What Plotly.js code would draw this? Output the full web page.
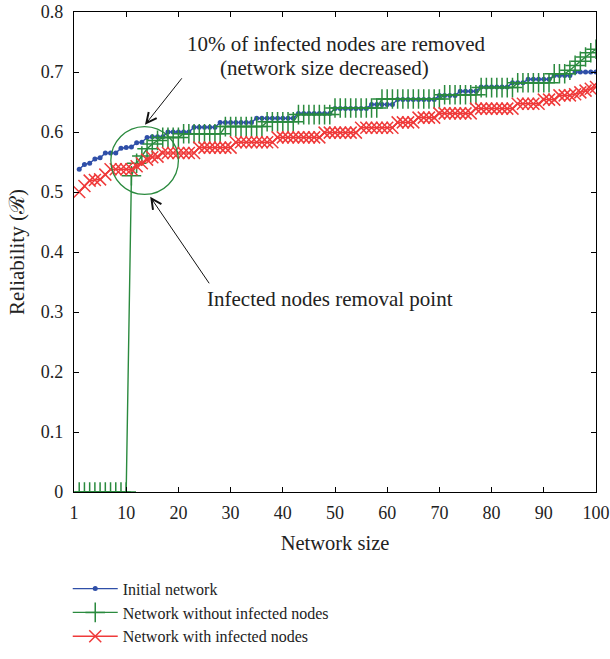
<!DOCTYPE html>
<html>
<head>
<meta charset="utf-8">
<script src="https://cdn.plot.ly/plotly-3.0.1.min.js"></script>
<style>
  html, body { margin: 0; padding: 0; background: #ffffff; }
  #chart { width: 610px; height: 659px; }
</style>
</head>
<body>
<div id="chart"></div>
<script>
// Network size (number of nodes) on the x axis
const networkSize = Array.from({ length: 100 }, (_, i) => i + 1);

// Reliability of the initial network
const initialNetwork = [
  0.538, 0.546, 0.548, 0.555, 0.557, 0.565, 0.565, 0.565, 0.573, 0.574,
  0.575, 0.582, 0.583, 0.591, 0.592, 0.592, 0.592, 0.600, 0.600, 0.600,
  0.600, 0.600, 0.608, 0.608, 0.608, 0.608, 0.608, 0.616, 0.616, 0.616,
  0.616, 0.616, 0.616, 0.616, 0.623, 0.623, 0.623, 0.623, 0.623, 0.623,
  0.623, 0.623, 0.631, 0.631, 0.631, 0.631, 0.631, 0.631, 0.631, 0.639,
  0.639, 0.639, 0.639, 0.639, 0.639, 0.639, 0.646, 0.646, 0.646, 0.646,
  0.646, 0.654, 0.654, 0.654, 0.654, 0.654, 0.654, 0.654, 0.654, 0.661,
  0.661, 0.661, 0.661, 0.668, 0.668, 0.668, 0.668, 0.675, 0.675, 0.675,
  0.675, 0.675, 0.675, 0.682, 0.682, 0.682, 0.688, 0.688, 0.688, 0.688,
  0.688, 0.694, 0.694, 0.694, 0.694, 0.700, 0.700, 0.700, 0.700, 0.700
];

// Reliability after infected nodes are taken out (zero before the removal point)
const withoutInfected = [
  0, 0, 0, 0, 0, 0, 0, 0, 0, 0,
  0.527, 0.548, 0.560, 0.572, 0.580, 0.586, 0.591, 0.591, 0.591, 0.591,
  0.597, 0.597, 0.597, 0.597, 0.597, 0.597, 0.597, 0.597, 0.609, 0.609,
  0.609, 0.609, 0.609, 0.609, 0.609, 0.609, 0.617, 0.617, 0.617, 0.617,
  0.617, 0.617, 0.629, 0.629, 0.629, 0.629, 0.629, 0.629, 0.629, 0.640,
  0.640, 0.640, 0.640, 0.640, 0.640, 0.640, 0.640, 0.640, 0.655, 0.655,
  0.655, 0.655, 0.655, 0.655, 0.655, 0.655, 0.655, 0.655, 0.655, 0.655,
  0.662, 0.662, 0.662, 0.662, 0.662, 0.662, 0.662, 0.674, 0.674, 0.674,
  0.674, 0.674, 0.674, 0.674, 0.682, 0.682, 0.682, 0.682, 0.682, 0.682,
  0.682, 0.697, 0.697, 0.697, 0.703, 0.711, 0.718, 0.725, 0.732, 0.738
];

// Reliability while infected nodes remain in the network
const withInfected = [
  0.500, 0.510, 0.519, 0.520, 0.521, 0.529, 0.538, 0.538, 0.538, 0.538,
  0.538, 0.543, 0.548, 0.554, 0.558, 0.559, 0.565, 0.565, 0.565, 0.565,
  0.565, 0.565, 0.565, 0.574, 0.574, 0.574, 0.574, 0.574, 0.574, 0.574,
  0.583, 0.583, 0.583, 0.583, 0.583, 0.583, 0.583, 0.583, 0.591, 0.591,
  0.591, 0.591, 0.591, 0.591, 0.591, 0.591, 0.591, 0.599, 0.599, 0.599,
  0.599, 0.599, 0.599, 0.599, 0.607, 0.607, 0.607, 0.607, 0.607, 0.607,
  0.607, 0.616, 0.616, 0.616, 0.616, 0.624, 0.624, 0.624, 0.624, 0.631,
  0.631, 0.631, 0.631, 0.631, 0.631, 0.631, 0.639, 0.639, 0.639, 0.639,
  0.639, 0.639, 0.639, 0.639, 0.647, 0.647, 0.647, 0.647, 0.647, 0.654,
  0.654, 0.654, 0.661, 0.661, 0.661, 0.663, 0.666, 0.669, 0.672, 0.675
];

// Tick positions and their printed labels on the x axis
const xTickVals = [0, 10, 20, 30, 40, 50, 60, 70, 80, 90, 100];
const xTickText = ['1', '10', '20', '30', '40', '50', '60', '70', '80', '90', '100'];

const seriesNames = ['Initial network', 'Network without infected nodes', 'Network with infected nodes'];

const BLUE = '#2f4fa8';
const GREEN = '#2a8a3e';
const RED = '#ef3a3a';
const SERIF = '"Liberation Serif", "DejaVu Serif", serif';
const TEXT = '#222';

const traces = [
  {
    x: networkSize, y: initialNetwork, name: seriesNames[0],
    type: 'scatter', mode: 'lines+markers',
    line: { color: BLUE, width: 1.4 },
    marker: { symbol: 'circle', size: 5, color: BLUE }
  },
  {
    x: networkSize, y: withoutInfected, name: seriesNames[1],
    type: 'scatter', mode: 'lines+markers',
    line: { color: GREEN, width: 1.4 },
    marker: { symbol: 'cross-thin', size: 14, color: GREEN, line: { color: GREEN, width: 1.5 } }
  },
  {
    x: networkSize, y: withInfected, name: seriesNames[2],
    type: 'scatter', mode: 'lines+markers',
    line: { color: RED, width: 1.4 },
    marker: { symbol: 'x-thin', size: 12, color: RED, line: { color: RED, width: 1.5 } }
  }
];

const axisCommon = {
  showline: true, linecolor: '#000', linewidth: 1.2, mirror: 'ticks',
  ticks: 'inside', ticklen: 5, tickwidth: 1, tickcolor: '#000',
  showgrid: false, zeroline: false, automargin: false,
  tickfont: { family: SERIF, size: 18, color: TEXT }
};

const layout = {
  width: 610, height: 659,
  paper_bgcolor: '#fff', plot_bgcolor: '#fff',
  margin: { l: 74, r: 14, t: 12, b: 167, autoexpand: false },
  font: { family: SERIF, color: TEXT },
  xaxis: Object.assign({}, axisCommon, {
    range: [0, 100], tickvals: xTickVals, ticktext: xTickText,
    ticklabelstandoff: 4,
    title: { text: 'Network size', font: { family: SERIF, size: 20.5, color: TEXT }, standoff: 13 }
  }),
  yaxis: Object.assign({}, axisCommon, {
    range: [0, 0.8], dtick: 0.1, tick0: 0,
    ticklabelstandoff: 6,
    title: { text: 'Reliability (ℛ)', font: { family: SERIF, size: 21, color: TEXT }, standoff: 10 }
  }),
  showlegend: true,
  legend: {
    x: -0.012, xanchor: 'left', y: -0.166, yanchor: 'top',
    orientation: 'v', itemwidth: 45, tracegroupgap: 0,
    bgcolor: 'rgba(0,0,0,0)',
    font: { family: SERIF, size: 16, color: TEXT }
  },
  shapes: [
    {
      type: 'circle', xref: 'x', yref: 'y',
      x0: 7.06, x1: 20.0, y0: 0.496, y1: 0.609,
      line: { color: GREEN, width: 1.3 }
    }
  ],
  annotations: [
    {
      x: 50.2, y: 0.747, xref: 'x', yref: 'y', showarrow: false,
      text: '10% of infected nodes are removed',
      font: { family: SERIF, size: 21, color: TEXT }
    },
    {
      x: 48.0, y: 0.707, xref: 'x', yref: 'y', showarrow: false,
      text: '(network size decreased)',
      font: { family: SERIF, size: 21, color: TEXT }
    },
    {
      x: 49.0, y: 0.322, xref: 'x', yref: 'y', showarrow: false,
      text: 'Infected nodes removal point',
      font: { family: SERIF, size: 21, color: TEXT }
    },
    {
      x: 13.6, y: 0.612, xref: 'x', yref: 'y', text: '',
      showarrow: true, ax: 38, ay: -48,
      arrowhead: 5, arrowsize: 2, arrowwidth: 1, arrowcolor: '#111'
    },
    {
      x: 14.6, y: 0.492, xref: 'x', yref: 'y', text: '',
      showarrow: true, ax: 60, ay: 88,
      arrowhead: 5, arrowsize: 2, arrowwidth: 1, arrowcolor: '#111'
    }
  ]
};

Plotly.newPlot('chart', traces, layout, { displayModeBar: false, staticPlot: true });
</script>
</body>
</html>
